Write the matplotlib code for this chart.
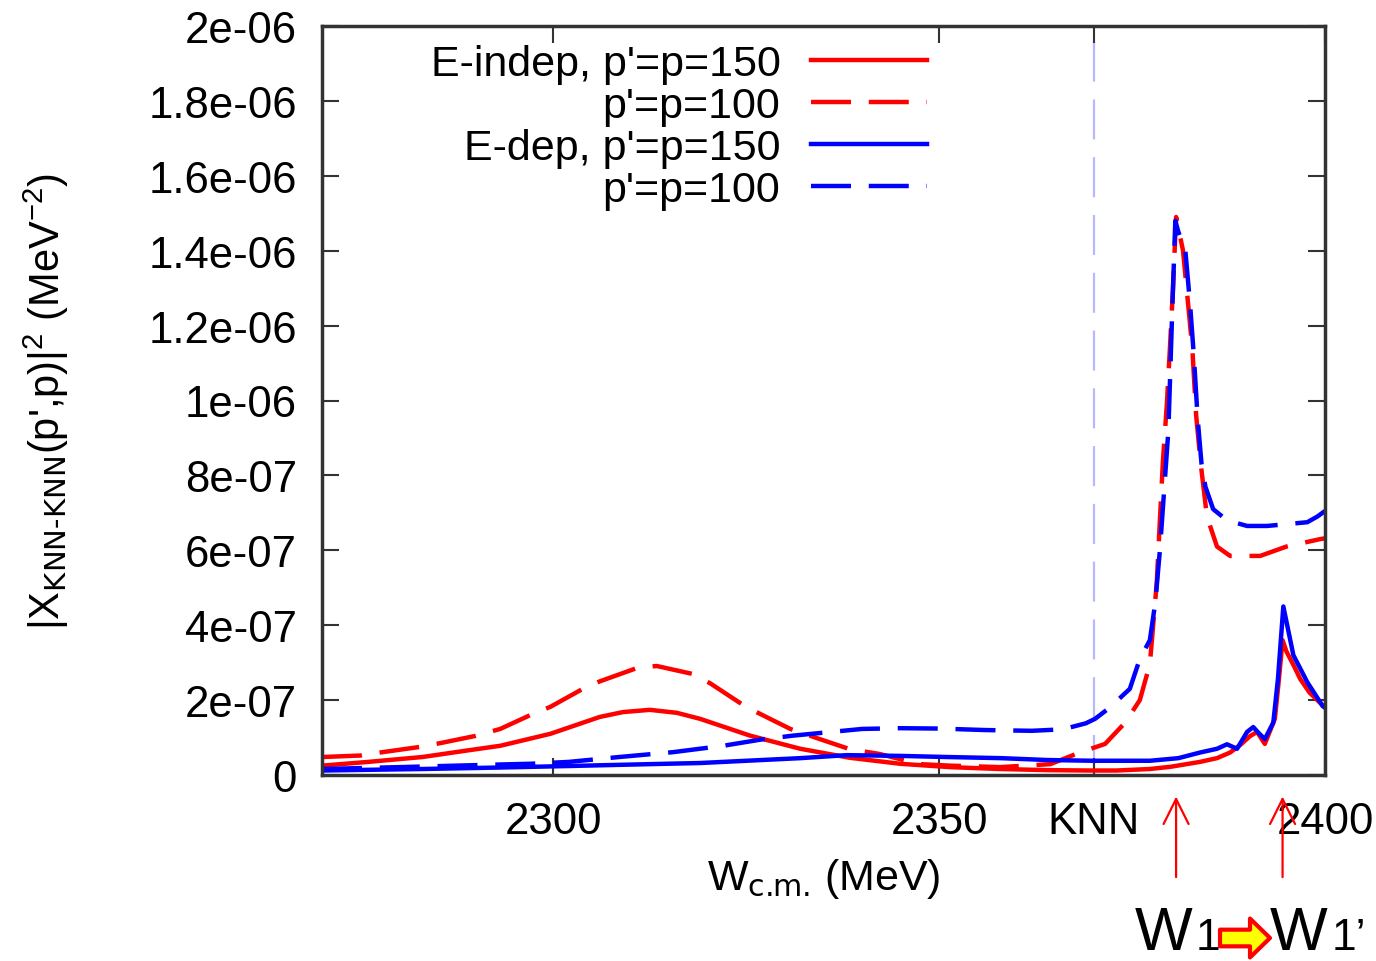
import numpy as np
import matplotlib
matplotlib.use("Agg")
import matplotlib.pyplot as plt
from matplotlib.patches import FancyArrowPatch

plt.rcParams['font.family'] = ['Liberation Sans', 'DejaVu Sans']
plt.rcParams['mathtext.default'] = 'regular'

# |X_KNN-KNN(p',p)|^2 in units of 1e-7 MeV^-2, vs W_cm (MeV)
w_indep_150 = [2270, 2276, 2283, 2289, 2293.1, 2299.6, 2306, 2309, 2312.5, 2316, 2319,
               2325.5, 2332, 2338.4, 2344.9, 2351.4, 2357.9, 2364, 2369.5, 2373, 2377.3,
               2380, 2383.8, 2386, 2387.7, 2389, 2390.3, 2391.2, 2392.2, 2393.5, 2394,
               2394.5, 2395, 2396, 2396.8, 2398, 2400]
x_indep_150 = [0.25, 0.35, 0.48, 0.66, 0.78, 1.1, 1.55, 1.68, 1.74, 1.66, 1.5,
               1.05, 0.7, 0.46, 0.3, 0.21, 0.16, 0.13, 0.12, 0.12, 0.16,
               0.22, 0.35, 0.45, 0.6, 0.8, 1.04, 1.15, 0.83, 1.5, 2.5,
               3.6, 3.3, 2.9, 2.56, 2.2, 1.8]

w_indep_100 = [2270, 2275, 2277.5, 2282.7, 2285.3, 2289.8, 2293.1, 2297, 2299.6, 2303.8,
               2306, 2311, 2313.4, 2318, 2320.3, 2324.8, 2326.8, 2330.7, 2334.5, 2338.4,
               2342.3, 2347.5, 2351.4, 2357.9, 2364.4, 2368.2, 2371.5, 2374.1, 2376,
               2377.3, 2378.2, 2378.6, 2379, 2379.5, 2379.9, 2380.3, 2380.7, 2381.6,
               2382.2, 2382.8, 2383.3, 2383.9, 2384.7, 2386, 2387.7, 2391.6, 2395,
               2399.4, 2400]
x_indep_100 = [0.48, 0.52, 0.6, 0.75, 0.85, 1.04, 1.23, 1.6, 1.82, 2.3,
               2.5, 2.87, 2.91, 2.7, 2.45, 1.84, 1.63, 1.23, 0.96, 0.69,
               0.56, 0.29, 0.25, 0.21, 0.29, 0.6, 0.83, 1.4, 2.0,
               2.96, 5.15, 6.8, 8.4, 9.9, 11.4, 13.0, 14.9, 14.0,
               12.7, 11.4, 9.6, 8.3, 6.9, 6.1, 5.85, 5.85, 6.1,
               6.3, 6.32]

w_dep_150 = [2270, 2283, 2293.1, 2302, 2312.5, 2319, 2325, 2332, 2338, 2345, 2351, 2358,
             2364, 2370, 2377.3, 2381, 2383.8, 2386, 2387.3, 2388.6, 2389.9, 2390.7,
             2391.5, 2392.2, 2393.3, 2393.9, 2394.6, 2395.9, 2397.7, 2399.7, 2400]
x_dep_150 = [0.12, 0.16, 0.2, 0.24, 0.29, 0.32, 0.38, 0.45, 0.53, 0.51, 0.48, 0.45,
             0.4, 0.38, 0.38, 0.45, 0.6, 0.7, 0.82, 0.7, 1.15, 1.28,
             1.1, 0.96, 1.4, 2.56, 4.5, 3.2, 2.48, 1.84, 1.8]

w_dep_100 = [2270, 2280, 2293, 2297, 2302, 2308.5, 2315.5, 2322, 2327, 2331, 2336, 2340,
             2345, 2350, 2356, 2362, 2366, 2369, 2370.2, 2372.1, 2374.7, 2376, 2377.3,
             2378, 2378.6, 2379.7, 2380.2, 2380.6, 2381, 2381.9, 2382.5, 2383, 2383.5,
             2384, 2384.5, 2385.5, 2387.3, 2389.9, 2392.5, 2397.7, 2399, 2400]
x_dep_100 = [0.16, 0.21, 0.28, 0.3, 0.35, 0.48, 0.61, 0.78, 0.95, 1.05, 1.15, 1.23,
             1.25, 1.24, 1.2, 1.18, 1.22, 1.38, 1.5, 1.8, 2.3, 3.1, 3.6,
             4.6, 6.0, 9.2, 12.4, 14.8, 14.5, 14.0, 12.6, 11.2, 9.5,
             8.3, 7.7, 7.1, 6.8, 6.65, 6.65, 6.75, 6.9, 7.05]

labels = ["E-indep, p'=p=150", "p'=p=100", "E-dep, p'=p=150", "p'=p=100"]

W_KNN = 2370.0      # KNN threshold
W1 = 2380.7         # pole position, E-indep
W1p = 2394.5        # shifted pole, E-dep

xticks = [2300, 2350, W_KNN, 2400]
xticklabels = ["2300", "2350", "KNN", "2400"]
yticks = np.arange(0, 2.01e-6, 2e-7)
yticklabels = ["0", "2e-07", "4e-07", "6e-07", "8e-07", "1e-06",
               "1.2e-06", "1.4e-06", "1.6e-06", "1.8e-06", "2e-06"]

fig = plt.figure(figsize=(13.76, 9.62), dpi=100)
ax = fig.add_axes([322 / 1376, 1 - 776 / 962, 1003 / 1376, 749 / 962])

lw = 3.2
dash = (9, 4)
ax.axvline(W_KNN, color=(0.72, 0.72, 1.0), lw=1.6, dashes=(18, 8), zorder=1)
ax.plot(w_indep_150, np.array(x_indep_150) * 1e-7, color='red', lw=lw, label=labels[0])
ax.plot(w_indep_100, np.array(x_indep_100) * 1e-7, color='red', lw=lw, dashes=dash, label=labels[1])
ax.plot(w_dep_150, np.array(x_dep_150) * 1e-7, color='blue', lw=lw, label=labels[2])
ax.plot(w_dep_100, np.array(x_dep_100) * 1e-7, color='blue', lw=lw, dashes=dash, label=labels[3])

ax.set_xlim(2270, 2400)
ax.set_ylim(0, 2e-6)
ax.set_xticks(xticks)
ax.set_xticklabels(xticklabels)
ax.set_yticks(yticks)
ax.set_yticklabels(yticklabels)
ax.tick_params(direction='in', length=12, width=1.5, labelsize=31.5,
               top=True, right=True, color='#333333')
ax.tick_params(axis='x', pad=19)
ax.tick_params(axis='y', pad=18)
for s in ax.spines.values():
    s.set_linewidth(2.5)
    s.set_color('#333333')

ax.set_xlabel(r"W$_\text{c.m.}$ (MeV)", fontsize=31)
ax.xaxis.set_label_coords(0.5, -0.108)
ax.set_ylabel(r"|X$_\text{KNN-KNN}$(p',p)|$^2$ (MeV$^{-2}$)", fontsize=30)
ax.yaxis.set_label_coords(-0.25, 0.5)

ax.legend(loc='upper right', bbox_to_anchor=(0.603, 0.976), frameon=False,
          markerfirst=False, fontsize=31, handlelength=2.7, handletextpad=0.7,
          labelspacing=0.05, borderpad=0, borderaxespad=0)

# pole markers below the axis
for wp in (W1, W1p):
    ax.annotate("", xy=(wp, -0.025), xytext=(wp, -0.14),
                xycoords=('data', 'axes fraction'), textcoords=('data', 'axes fraction'),
                arrowprops=dict(arrowstyle='->,head_length=0.9,head_width=0.45',
                                color='red', lw=1.6, mutation_scale=20),
                annotation_clip=False)

base = 1 - 950 / 962
fig.text(1135 / 1376, base, "W", fontsize=44, va='baseline')
fig.text(1196 / 1376, base, "1", fontsize=32, va='baseline')
fig.text(1270 / 1376, base, "W", fontsize=44, va='baseline')
fig.text(1332 / 1376, base, "1\u2019", fontsize=32, va='baseline')
fig.patches.append(FancyArrowPatch((1220 / 1376, 1 - 939 / 962), (1270 / 1376, 1 - 939 / 962),
                                   transform=fig.transFigure, figure=fig,
                                   arrowstyle='simple,head_length=0.72,head_width=1.4,tail_width=0.6',
                                   mutation_scale=20, fc='yellow', ec='red', lw=3,
                                   shrinkA=0, shrinkB=0))

fig.savefig("out.png", dpi=100)
